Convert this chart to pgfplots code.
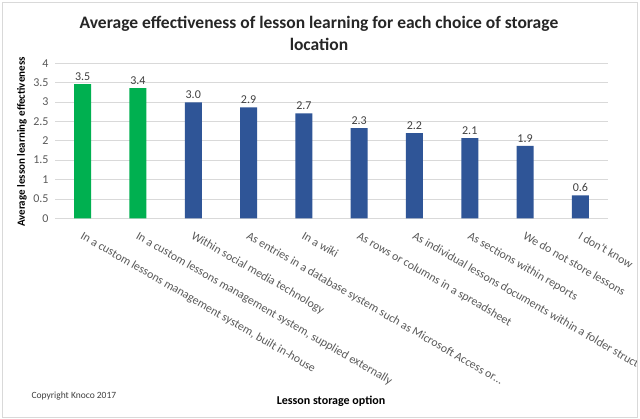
\documentclass[border=0pt]{standalone}
\usepackage{pgfplots}
\pgfplotsset{compat=1.18}
\usepackage{fontspec}
\setmainfont{Carlito}
\definecolor{cgreen}{HTML}{00B050}
\definecolor{cblue}{HTML}{2F5597}
\definecolor{cgrid}{HTML}{D9D9D9}
\definecolor{ctick}{HTML}{595959}
\definecolor{clab}{HTML}{404040}
\begin{document}
\begin{tikzpicture}[x=1pt,y=1pt]
\useasboundingbox (0,0) rectangle (640,419);
\fill[white] (0,0) rectangle (640,419);
\begin{scope}
\clip (2,2) rectangle (637,417);
\begin{axis}[
  at={(55pt,200.7pt)}, anchor=south west,
  scale only axis, width=553pt, height=155pt,
  ymin=0, ymax=4, ytick={0,0.5,1,1.5,2,2.5,3,3.5,4},
  xmin=-0.5, xmax=9.5, xtick={0,1,2,3,4,5,6,7,8,9},
  xticklabels={
    {In a custom lessons management system, built in-house},
    {In a custom lessons management system, supplied externally},
    {Within social media technology},
    {As entries in a database system such as Microsoft Access or\ldots},
    {In a wiki},
    {As rows or columns in a spreadsheet},
    {As individual lessons documents within a folder structure},
    {As sections within reports},
    {We do not store lessons},
    {I don't know}},
  xticklabel style={xshift=1pt, yshift=-11pt, rotate=-30, anchor=north west, font=\fontsize{11.9}{13}\selectfont, text=ctick, inner sep=1pt},
  yticklabel style={font=\fontsize{12}{14}\selectfont, text=ctick, xshift=-3pt},
  /pgf/number format/assume math mode=true,
  yticklabel={\pgfmathprintnumber[fixed]{\tick}},
  ymajorgrids, grid style={cgrid, line width=0.8pt},
  axis line style={draw=none},
  major tick length=0pt,
  tick style={draw=none},
  ybar, bar shift=0pt, bar width=17pt,
  nodes near coords,
  nodes near coords style={font=\fontsize{12}{14}\selectfont, text=clab,
    /pgf/number format/fixed, /pgf/number format/precision=1, /pgf/number format/fixed zerofill},
  clip=false,
]
\addplot[fill=cgreen, draw=none] coordinates {(0,3.46) (1,3.36)};
\addplot[fill=cblue, draw=none] coordinates {(2,2.99) (3,2.86) (4,2.71) (5,2.33) (6,2.20) (7,2.07) (8,1.87) (9,0.59)};
\end{axis}
\end{scope}
\node[font=\fontsize{17.5}{22}\selectfont\bfseries, align=center, text=black!85] at (319,386) {Average effectiveness of lesson learning for each choice of storage\\location};
\node[font=\fontsize{11}{13}\selectfont\bfseries, rotate=90] at (22,277) {Average lesson learning effectiveness};
\node[font=\fontsize{12}{14}\selectfont\bfseries] at (331,18) {Lesson storage option};
\node[font=\fontsize{9.5}{12}\selectfont, text=clab, anchor=west] at (28,23) {Copyright Knoco 2017};
\draw[cgrid, line width=0.8pt] (2,2) rectangle (637,417);
\end{tikzpicture}
\end{document}
